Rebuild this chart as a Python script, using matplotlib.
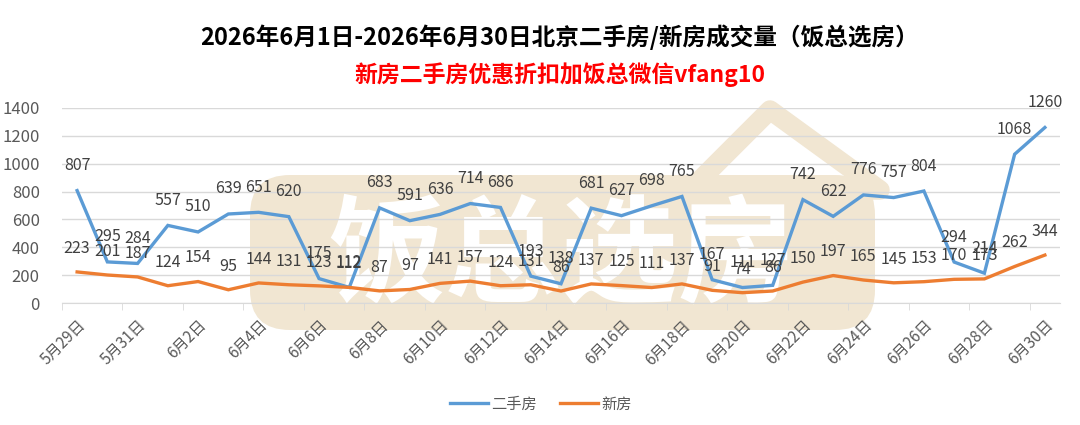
import matplotlib
matplotlib.use("Agg")
import matplotlib.pyplot as plt
import numpy as np
from matplotlib.patches import Polygon, FancyBboxPatch

plt.rcParams['font.family'] = ['Noto Sans CJK SC', 'DejaVu Sans']

dates = ["5月29日", "5月30日", "5月31日"] + [f"6月{d}日" for d in range(1, 31)]
second_hand = [807, 295, 284, 557, 510, 639, 651, 620, 175, 112, 683, 591, 636, 714, 686,
               193, 138, 681, 627, 698, 765, 167, 111, 127, 742, 622, 776, 757, 804, 294,
               214, 1068, 1260]
new_home = [223, 201, 187, 124, 154, 95, 144, 131, 123, 112, 87, 97, 141, 157, 124,
            131, 86, 137, 125, 111, 137, 91, 74, 86, 150, 197, 165, 145, 153, 170,
            173, 262, 344]
series_names = ["二手房", "新房"]
title = "2026年6月1日-2026年6月30日北京二手房/新房成交量（饭总选房）"
subtitle = "新房二手房优惠折扣加饭总微信vfang10"

blue = "#5B9BD5"
orange = "#ED7D31"
grey_txt = "#595959"
lab_txt = "#404040"
beige = "#F1E6D2"

fig = plt.figure(figsize=(10.8, 4.25), dpi=100)
ax = fig.add_axes([62/1080, 1-303/425, (1060-62)/1080, (303-108)/425])

x = np.arange(len(dates))

# watermark
wm = fig.add_axes([0, 0, 1, 1], zorder=-1)
wm.set_xlim(0, 1080); wm.set_ylim(425, 0); wm.axis('off')
wm.add_patch(FancyBboxPatch((250, 175), 625, 155, boxstyle="round,pad=0,rounding_size=40",
                            color=beige, lw=0))
wm.add_patch(Polygon([[690, 190], [770, 110], [880, 190]], closed=True, fill=False,
                     edgecolor=beige, lw=14, joinstyle='round'))
wm.text(562, 258, "饭总选房", fontsize=84, fontweight='bold', color="white",
        ha='center', va='center', style='italic')

ax.set_zorder(1)
ax.patch.set_alpha(0)

ax.plot(x, second_hand, color=blue, lw=2.4, solid_joinstyle='miter', label=series_names[0], zorder=3)
ax.plot(x, new_home, color=orange, lw=2.4, solid_joinstyle='miter', label=series_names[1], zorder=3)

for xi, v in zip(x, second_hand):
    ax.annotate(str(v), (xi, v), xytext=(0, 18), textcoords='offset points',
                ha='center', va='center', fontsize=11.5, color=lab_txt, zorder=4)
for xi, v in zip(x, new_home):
    ax.annotate(str(v), (xi, v), xytext=(0, 17), textcoords='offset points',
                ha='center', va='center', fontsize=11.5, color=lab_txt, zorder=4)

ax.set_xlim(-0.5, len(dates) - 0.5)
ax.set_ylim(0, 1400)
ax.set_yticks(np.arange(0, 1401, 200))
ax.tick_params(axis='y', length=0, labelsize=12, labelcolor=grey_txt, pad=16)
ax.grid(axis='y', color="#D9D9D9", lw=1)
ax.set_axisbelow(True)

ax.set_xticks(x[::2])
ax.set_xticklabels(dates[::2], rotation=45, ha='right', va='top', rotation_mode='anchor',
                   fontsize=11, color=grey_txt)
ax.tick_params(axis='x', which='major', length=0, pad=10)
ax.set_xticks(np.arange(-0.5, len(dates), 2), minor=True)
ax.tick_params(axis='x', which='minor', length=5, color="#D9D9D9")

for s in ['top', 'right', 'left']:
    ax.spines[s].set_visible(False)
ax.spines['bottom'].set_color("#D9D9D9")

fig.text(560/1080, 1-37/425, title, ha='center', va='center', fontsize=17, fontweight='bold', color='black')
fig.text(560/1080, 1-75/425, subtitle, ha='center', va='center', fontsize=16.5, fontweight='bold', color='#FF0000')

fig.legend(loc='center', bbox_to_anchor=(541/1080, 1-404/425), ncol=2, frameon=False,
           fontsize=11, handlelength=2.5, columnspacing=1.5, handletextpad=0.2,
           labelcolor=grey_txt)

fig.savefig("out.png", dpi=100)
